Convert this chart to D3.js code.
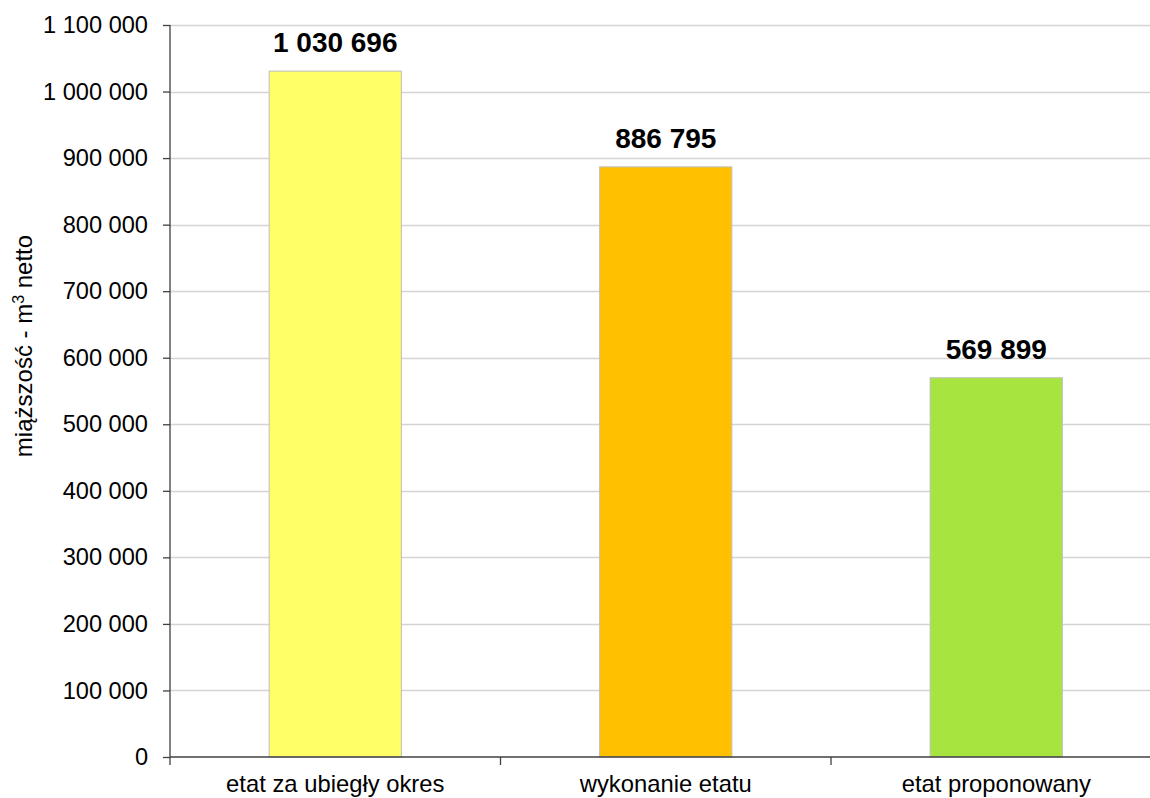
<!DOCTYPE html>
<html>
<head>
<meta charset="utf-8">
<script src="https://cdn.jsdelivr.net/npm/d3@7"></script>
<style>
body { margin: 0; background: #fff; }
text { font-family: "Liberation Sans", Arial, sans-serif; }
</style>
</head>
<body>
<svg id="chart" width="1150" height="798"></svg>
<script>
var categories = ["etat za ubiegły okres", "wykonanie etatu", "etat proponowany"];
var values = [1030696, 886795, 569899];
var colors = ["#FFFF66", "#FFC000", "#A8E43F"];
var yTicks = [0, 100000, 200000, 300000, 400000, 500000, 600000, 700000, 800000, 900000, 1000000, 1100000];

var svg = d3.select("#chart"),
	plotLeft = 170, plotRight = 1161.5, plotTop = 25, plotBottom = 757;

function fmt(v) {
	return d3.format(",")(v).replace(/,/g, " ");
}

var x = d3.scaleBand()
	.domain(categories)
	.range([plotLeft, plotRight])
	.paddingInner(0.6)
	.paddingOuter(0.3);

var y = d3.scaleLinear()
	.domain([0, 1100000])
	.range([plotBottom, plotTop]);

// grid
svg.append("g").selectAll("line")
	.data(yTicks.slice(1))
	.enter().append("line")
	.attr("x1", plotLeft).attr("x2", plotRight)
	.attr("y1", function(d) { return Math.round(y(d)) + 0.5; })
	.attr("y2", function(d) { return Math.round(y(d)) + 0.5; })
	.attr("stroke", "#d4d4d4")
	.attr("stroke-width", 1.3);

// bars
svg.append("g").selectAll("rect")
	.data(values)
	.enter().append("rect")
	.attr("x", function(d, i) { return x(categories[i]); })
	.attr("y", function(d) { return y(d); })
	.attr("width", x.bandwidth())
	.attr("height", function(d) { return plotBottom - y(d); })
	.attr("fill", function(d, i) { return colors[i]; })
	.attr("stroke", "#bdbdbd")
	.attr("stroke-width", 1);

// value labels
svg.append("g").selectAll("text")
	.data(values)
	.enter().append("text")
	.attr("x", function(d, i) { return x(categories[i]) + x.bandwidth() / 2; })
	.attr("y", function(d) { return y(d) - 19; })
	.attr("text-anchor", "middle")
	.attr("font-size", 28)
	.attr("font-weight", "bold")
	.attr("fill", "#000")
	.text(function(d) { return fmt(d); });

// y axis
var yAxis = svg.append("g")
	.attr("transform", "translate(" + plotLeft + ",0)")
	.call(d3.axisLeft(y).tickValues(yTicks).tickSize(7).tickPadding(15).tickFormat(fmt));
yAxis.selectAll("text").attr("font-size", 23.6).attr("fill", "#000").attr("font-family", "Liberation Sans, Arial, sans-serif");
yAxis.selectAll("line").attr("stroke", "#404040").attr("stroke-width", 1.3);
yAxis.select(".domain").attr("stroke", "#404040").attr("stroke-width", 1.3).attr("d", "M0," + plotTop + "V" + plotBottom);

// x axis
var edges = [plotLeft].concat(categories.map(function(c) { return x(c) + x.bandwidth() / 2 + x.step() / 2; }));
var xg = svg.append("g");
xg.append("line")
	.attr("x1", plotLeft).attr("x2", plotRight)
	.attr("y1", plotBottom).attr("y2", plotBottom)
	.attr("stroke", "#404040").attr("stroke-width", 1.3);
xg.selectAll("line.tick")
	.data(edges)
	.enter().append("line")
	.attr("class", "tick")
	.attr("x1", function(d) { return d; }).attr("x2", function(d) { return d; })
	.attr("y1", plotBottom).attr("y2", plotBottom + 8)
	.attr("stroke", "#404040").attr("stroke-width", 1.3);
xg.selectAll("text")
	.data(categories)
	.enter().append("text")
	.attr("x", function(d) { return x(d) + x.bandwidth() / 2; })
	.attr("y", plotBottom + 35)
	.attr("text-anchor", "middle")
	.attr("font-size", 23.8)
	.attr("fill", "#000")
	.text(function(d) { return d; });

// y title
var title = svg.append("text")
	.attr("transform", "translate(32,346) rotate(-90)")
	.attr("text-anchor", "middle")
	.attr("font-size", 24)
	.attr("fill", "#000");
title.append("tspan").text("miąższość - m");
title.append("tspan").attr("baseline-shift", "super").attr("font-size", 16).text("3");
title.append("tspan").text(" netto");
</script>
</body>
</html>
